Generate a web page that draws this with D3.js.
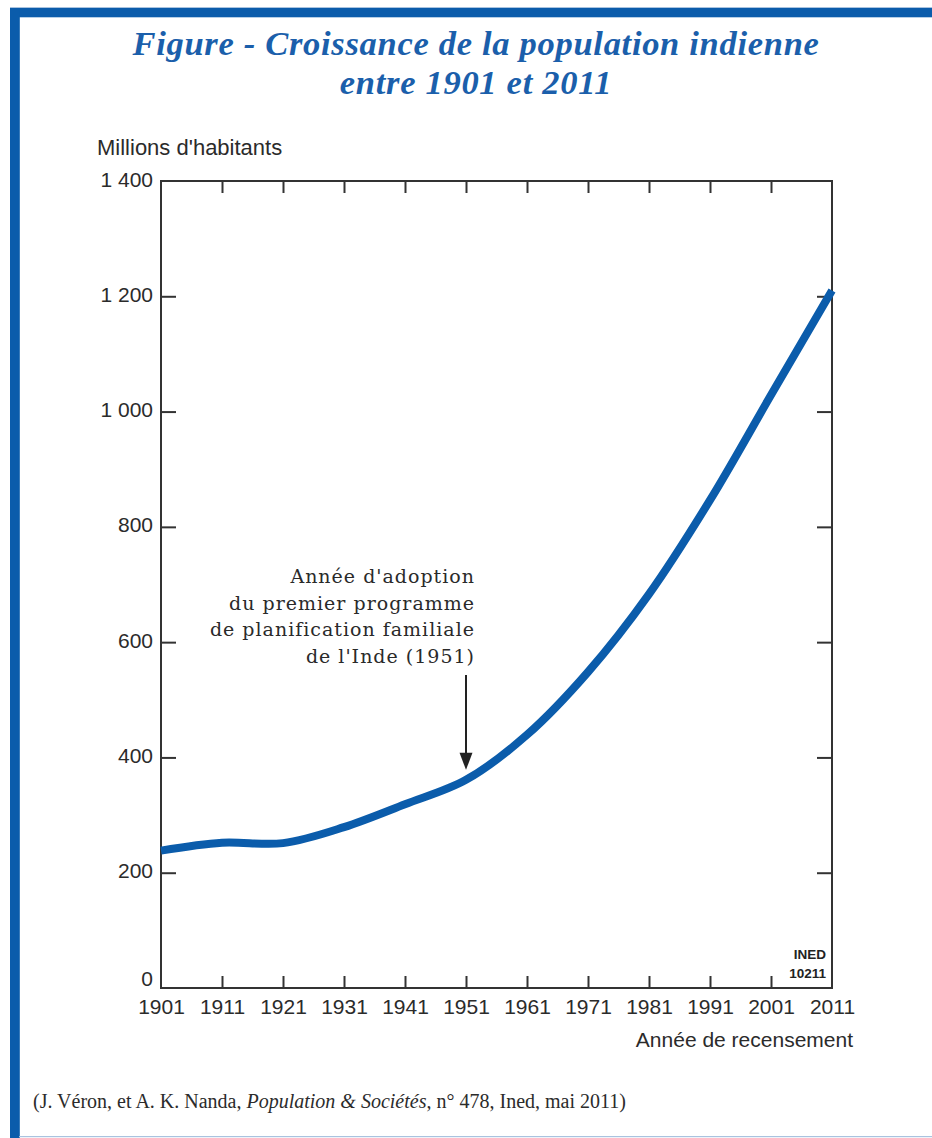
<!DOCTYPE html>
<html>
<head>
<meta charset="utf-8">
<script src="https://cdn.jsdelivr.net/npm/d3@7"></script>
<style>
  html, body { margin: 0; padding: 0; background: #ffffff; }
  svg { display: block; }
</style>
</head>
<body>
<svg id="chart" width="932" height="1138"></svg>
<script>
// ---- data ----
const years = [1901, 1911, 1921, 1931, 1941, 1951, 1961, 1971, 1981, 1991, 2001, 2011];
const population = [238.4, 252.1, 251.3, 279.0, 318.7, 361.1, 439.2, 548.2, 683.3, 846.4, 1028.7, 1210.2];
const yTicks = [0, 200, 400, 600, 800, 1000, 1200, 1400];
const yTickLabels = ["0", "200", "400", "600", "800", "1 000", "1 200", "1 400"];
const xTickLabels = ["1901", "1911", "1921", "1931", "1941", "1951", "1961", "1971", "1981", "1991", "2001", "2011"];
const titleLines = ["Figure - Croissance de la population indienne", "entre 1901 et 2011"];
const yAxisTitle = "Millions d'habitants";
const xAxisTitle = "Année de recensement";
const annotationYear = 1951;
const annotationLines = ["Année d'adoption", "du premier programme", "de planification familiale", "de l'Inde (1951)"];
const codeLines = ["INED", "10211"];
const sourceParts = [
  { text: "(J. Véron, et A. K. Nanda, ", italic: false },
  { text: "Population & Sociétés", italic: true },
  { text: ", n° 478, Ined, mai 2011)", italic: false }
];

// ---- layout ----
const svg = d3.select("#chart");
const plot = { left: 161, right: 832, top: 181, bottom: 988 };
const axisColor = "#333333";
const textColor = "#2b2b2b";
const blue = "#0b5cab";
const sansFont = "'Liberation Sans', Arial, sans-serif";
const serifFont = "'DejaVu Serif', serif";

const x = d3.scaleLinear().domain([1901, 2011]).range([plot.left, plot.right]);
const y = d3.scaleLinear().domain([0, 1400]).range([plot.bottom, plot.top]);

// ---- border frame ----
svg.append("rect").attr("x", 10).attr("y", 7).attr("width", 922).attr("height", 1).attr("fill", "#a9c3df");
svg.append("rect").attr("x", 10).attr("y", 8).attr("width", 922).attr("height", 9.3).attr("fill", blue);
svg.append("rect").attr("x", 10).attr("y", 8).attr("width", 9.8).attr("height", 1130).attr("fill", blue);
svg.append("rect").attr("x", 19).attr("y", 1136).attr("width", 913).attr("height", 1.2).attr("fill", "#a9c3df");

// ---- title ----
svg.append("g").selectAll("text").data(titleLines).join("text")
  .attr("x", 476)
  .attr("y", (d, i) => 55 + i * 39)
  .attr("text-anchor", "middle")
  .attr("font-family", "'Liberation Serif', 'Times New Roman', serif")
  .attr("font-style", "italic")
  .attr("font-weight", "bold")
  .attr("font-size", 34.5)
  .attr("letter-spacing", "0.7px")
  .attr("fill", "#1b5fab")
  .text(d => d);

// ---- axes ----
function styleAxis(g) {
  g.select(".domain").remove();
  g.selectAll(".tick line").attr("stroke", axisColor).attr("stroke-width", 2);
  g.selectAll(".tick text")
    .attr("font-family", sansFont)
    .attr("font-size", 21)
    .attr("fill", textColor);
}

const yLabelMap = new Map(yTicks.map((v, i) => [v, yTickLabels[i]]));
const xLabelMap = new Map(years.map((v, i) => [v, xTickLabels[i]]));

const gLeft = svg.append("g").attr("transform", `translate(${plot.left},0)`)
  .call(d3.axisLeft(y).tickValues(yTicks).tickSize(-15).tickPadding(8).tickFormat(d => yLabelMap.get(d)))
  .call(styleAxis);
gLeft.selectAll(".tick text").attr("dy", d => d === 0 ? "-0.12em" : "0.24em");
gLeft.selectAll(".tick line").filter(d => d === 0 || d === 1400).remove();

const gRight = svg.append("g").attr("transform", `translate(${plot.right},0)`)
  .call(d3.axisRight(y).tickValues(yTicks).tickSize(-15).tickFormat(""))
  .call(styleAxis);
gRight.selectAll(".tick line").filter(d => d === 0 || d === 1400).remove();

const gBottom = svg.append("g").attr("transform", `translate(0,${plot.bottom})`)
  .call(d3.axisBottom(x).tickValues(years).tickSize(-12).tickPadding(11).tickFormat(d => xLabelMap.get(d)))
  .call(styleAxis);
gBottom.selectAll(".tick line").filter(d => d === 1901 || d === 2011).remove();

const gTop = svg.append("g").attr("transform", `translate(0,${plot.top})`)
  .call(d3.axisTop(x).tickValues(years).tickSize(-12).tickFormat(""))
  .call(styleAxis);
gTop.selectAll(".tick line").filter(d => d === 1901 || d === 2011).remove();

// frame
svg.append("rect")
  .attr("x", plot.left).attr("y", plot.top)
  .attr("width", plot.right - plot.left).attr("height", plot.bottom - plot.top)
  .attr("fill", "none").attr("stroke", axisColor).attr("stroke-width", 2);

// axis titles
svg.append("text")
  .attr("x", 97).attr("y", 155)
  .attr("font-family", sansFont).attr("font-size", 22).attr("fill", textColor)
  .text(yAxisTitle);
svg.append("text")
  .attr("x", 853).attr("y", 1047).attr("text-anchor", "end")
  .attr("font-family", sansFont).attr("font-size", 21).attr("fill", textColor)
  .text(xAxisTitle);

// ---- line ----
const line = d3.line()
  .x((d, i) => x(years[i]))
  .y(d => y(d))
  .curve(d3.curveCatmullRom.alpha(0.5));
svg.append("path")
  .datum(population)
  .attr("d", line)
  .attr("fill", "none")
  .attr("stroke", blue)
  .attr("stroke-width", 8)
  .attr("stroke-linecap", "butt");

// ---- annotation ----
const annIdx = years.indexOf(annotationYear);
const ax = x(annotationYear);
const tipY = y(population[annIdx]) - 10;
svg.append("line")
  .attr("x1", ax).attr("x2", ax)
  .attr("y1", 675).attr("y2", tipY - 14)
  .attr("stroke", "#222").attr("stroke-width", 2);
svg.append("path")
  .attr("d", `M${ax - 6.5},${tipY - 17} L${ax + 6.5},${tipY - 17} L${ax},${tipY} Z`)
  .attr("fill", "#222");
svg.append("g").selectAll("text").data(annotationLines).join("text")
  .attr("x", ax + 9)
  .attr("y", (d, i) => 583 + i * 26.7)
  .attr("text-anchor", "end")
  .attr("font-family", serifFont)
  .attr("font-size", 19)
  .attr("letter-spacing", "1px")
  .attr("fill", "#2a2a2a")
  .text(d => d);

// ---- INED code ----
svg.append("g").selectAll("text").data(codeLines).join("text")
  .attr("x", 826)
  .attr("y", (d, i) => 959 + i * 19)
  .attr("text-anchor", "end")
  .attr("font-family", sansFont)
  .attr("font-weight", "bold")
  .attr("font-size", 13.5)
  .attr("fill", "#222")
  .text(d => d);

// ---- source ----
const src = svg.append("text")
  .attr("x", 33).attr("y", 1108)
  .attr("font-family", "'Liberation Serif', 'Times New Roman', serif")
  .attr("font-size", 20)
  .attr("fill", "#2b2b2b");
src.selectAll("tspan").data(sourceParts).join("tspan")
  .attr("font-style", d => d.italic ? "italic" : "normal")
  .text(d => d.text);
</script>
</body>
</html>
